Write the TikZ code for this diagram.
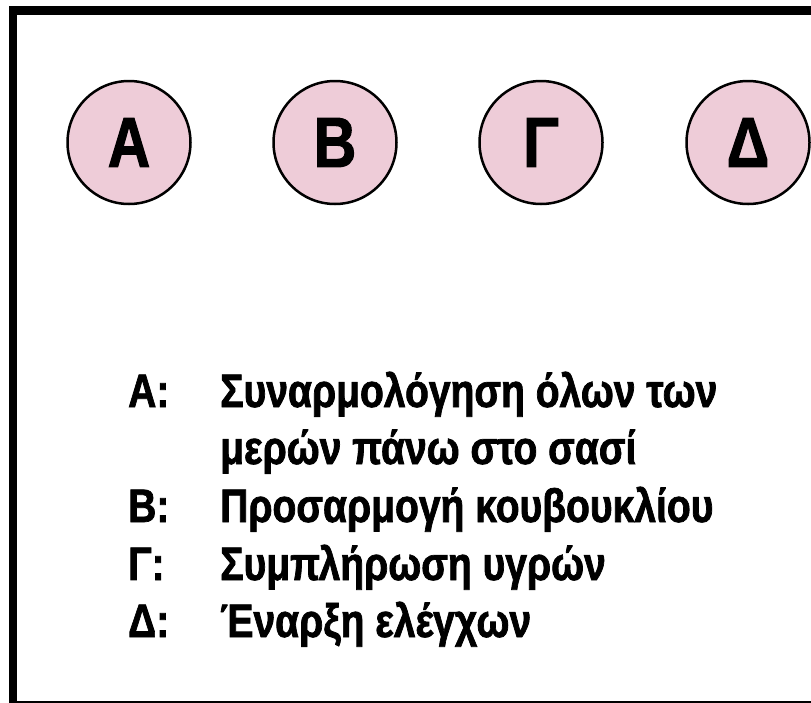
\documentclass[tikz,border=0pt]{standalone}
\usepackage{fontspec}
\setmainfont{Liberation Sans}[FakeStretch=0.83]
\newfontfamily\keyfont{Liberation Sans Bold}[FakeStretch=0.83,FakeBold=1.5]
\definecolor{circfill}{RGB}{238,204,216}
\begin{document}
\begin{tikzpicture}[x=1pt,y=-1pt,
  stage/.style={circle,draw=black,line width=2.5pt,fill=circfill,minimum size=123pt,inner sep=0pt,font=\fontsize{71}{71}\keyfont},
  key/.style={anchor=base west,inner sep=0pt,font=\fontsize{47}{57}\keyfont}]
\useasboundingbox (0,0) rectangle (811,702);
\begin{scope}
\clip (0,0) rectangle (811,702);
\draw[line width=8.5pt] (13,10.5) rectangle (830,705);
\end{scope}
\node[stage] (a) at (129,142.5) {Α};
\node[stage] (b) at (335,142.5) {Β};
\node[stage] (g) at (541,142.5) {Γ};
\node[stage] (d) at (748,142.5) {Δ};
\node[key] (la) at (128,407) {Α:};
\node[key] (ta) at (220,407) {Συναρμολόγηση όλων των};
\node[key] (ta2) at (220,464) {μερών πάνω στο σασί};
\node[key] (lb) at (128,522) {Β:};
\node[key] (tb) at (220,522) {Προσαρμογή κουβουκλίου};
\node[key] (lg) at (128,580) {Γ:};
\node[key] (tg) at (220,580) {Συμπλήρωση υγρών};
\node[key] (ld) at (128,637) {Δ:};
\node[key] (td) at (220,637) {Έναρξη ελέγχων};
\end{tikzpicture}
\end{document}
